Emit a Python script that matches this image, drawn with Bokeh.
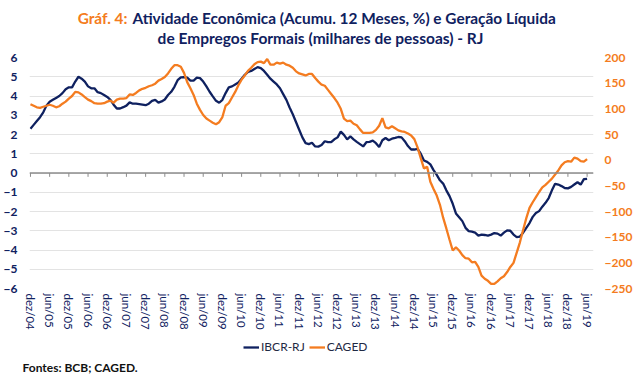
from bokeh.plotting import figure
from bokeh.layouts import column
from bokeh.models import (Range1d, LinearAxis, FixedTicker, Span, Label, Legend,
                          LegendItem, ColumnDataSource)
from bokeh.embed import file_html
from bokeh.resources import INLINE

# ---------------- data (monthly, dez/04 .. jun/19) ----------------
IBCR_RJ = [
    2.3, 2.5, 2.7, 2.9, 3.15, 3.5, 3.7, 3.8, 3.9, 4.0,
    4.15, 4.35, 4.45, 4.45, 4.75, 5.0, 4.9, 4.75, 4.5, 4.4,
    4.4, 4.2, 4.15, 4.05, 3.95, 3.8, 3.55, 3.35, 3.35, 3.42,
    3.5, 3.67, 3.6, 3.6, 3.58, 3.55, 3.52, 3.6, 3.75, 3.8,
    3.66, 3.72, 3.82, 4.05, 4.22, 4.48, 4.82, 4.97, 4.98, 4.95,
    4.8, 4.8, 4.95, 4.93, 4.75, 4.5, 4.22, 3.98, 3.75, 3.65,
    3.8, 4.15, 4.45, 4.5, 4.6, 4.7, 4.9, 5.1, 5.25, 5.3,
    5.4, 5.5, 5.45, 5.3, 5.1, 4.9, 4.75, 4.6, 4.4, 4.1,
    3.8, 3.4, 3.05, 2.65, 2.25, 1.85, 1.55, 1.5, 1.57, 1.38,
    1.37, 1.45, 1.65, 1.6, 1.6, 1.75, 1.85, 2.15, 1.98, 1.75,
    1.9, 1.75, 1.62, 1.5, 1.38, 1.6, 1.62, 1.68, 1.55, 1.35,
    1.7, 1.82, 1.7, 1.78, 1.82, 1.87, 1.85, 1.65, 1.4, 1.22,
    1.22, 1.25, 1.0, 0.65, 0.58, 0.45, 0.15, -0.1, -0.38, -0.55,
    -0.9, -1.2, -1.6, -2.1, -2.3, -2.5, -2.85, -3.02, -3.05, -3.1,
    -3.25, -3.2, -3.22, -3.25, -3.2, -3.12, -3.15, -3.25, -3.1, -2.98,
    -3.0, -3.2, -3.33, -3.3, -3.1, -2.85, -2.6, -2.28, -2.08, -1.98,
    -1.75, -1.55, -1.3, -0.9, -0.56, -0.6, -0.68, -0.78, -0.8, -0.72,
    -0.6, -0.48, -0.6, -0.32, -0.3,
]

CAGED = [
    109, 106, 103, 102, 104, 106, 108, 106, 103, 105,
    110, 114, 120, 125, 133, 132, 128, 123, 118, 115,
    111, 110, 110, 111, 114, 116, 112, 118, 120, 120,
    121, 128, 127, 131, 136, 139, 141, 144, 146, 149,
    155, 158, 162, 169, 178, 185, 185, 182, 170, 152,
    140, 127, 110, 98, 88, 81, 77, 73, 70, 74,
    84, 106, 111, 122, 133, 146, 157, 165, 174, 180,
    187, 191, 192, 189, 197, 186, 186, 190, 188, 190,
    186, 184, 180, 173, 169, 167, 165, 168, 168, 160,
    153, 147, 145, 137, 129, 121, 112, 100, 81, 76,
    77, 71, 68, 60, 53, 53, 53, 54, 59, 67,
    82, 64, 62, 66, 62, 58, 56, 55, 52, 48,
    41, 25, 4, -16, -13, -42, -56, -69, -87, -112,
    -133, -155, -176, -170, -176, -185, -191, -192, -199, -198,
    -208, -225, -231, -235, -241, -241, -236, -230, -226, -218,
    -208, -200, -180, -160, -136, -113, -93, -82, -72, -62,
    -53, -48, -42, -36, -28, -20, -10, -4, -2, -3,
    5, 3, -2, -3, 2,
]

TICK_LABELS = [
    "dez/04", "jun/05", "dez/05", "jun/06", "dez/06", "jun/07", "dez/07",
    "jun/08", "dez/08", "jun/09", "dez/09", "jun/10", "dez/10", "jun/11",
    "dez/11", "jun/12", "dez/12", "jun/13", "dez/13", "jun/14", "dez/14",
    "jun/15", "dez/15", "jun/16", "dez/16", "jun/17", "dez/17", "jun/18",
    "dez/18", "jun/19",
]
LEFT_TICKS = [-6, -5, -4, -3, -2, -1, 0, 1, 2, 3, 4, 5, 6]
RIGHT_TICKS = [-250, -200, -150, -100, -50, 0, 50, 100, 150, 200]
SERIES_NAMES = ["IBCR-RJ", "CAGED"]

TITLE_TAG = "Gráf. 4:"
TITLE_L1 = "Atividade Econômica (Acumu. 12 Meses, %) e Geração Líquida"
TITLE_L2 = "de Empregos Formais (milhares de pessoas) - RJ"
SOURCE = "Fontes: BCB; CAGED."

NAVY = "#0F2160"
ORANGE = "#F47C20"
FONT = "Lato"
W = 642


def strip(height, y_range):
    f = figure(width=W, height=height, output_backend="svg", toolbar_location=None,
               x_axis_location=None, y_axis_location=None,
               x_range=Range1d(0, W), y_range=y_range, frame_align=False,
               min_border=0, min_border_left=0, min_border_right=0,
               min_border_top=0, min_border_bottom=0)
    f.grid.visible = False
    f.outline_line_color = None
    return f


months = list(range(len(IBCR_RJ)))
tick_pos = [i * 6 for i in range(len(TICK_LABELS))]
src = ColumnDataSource(dict(x=months, ibc=IBCR_RJ, cag=CAGED))

# ---------------- title strip ----------------
t = strip(50, Range1d(0, 50))
t.add_layout(Label(x=127, y=33, x_units="screen", y_units="screen", text=TITLE_TAG,
                   text_align="right", text_baseline="middle", text_font=FONT,
                   text_font_style="bold", text_font_size="15.4px", text_color=ORANGE))
t.add_layout(Label(x=132, y=33, x_units="screen", y_units="screen", text=TITLE_L1,
                   text_align="left", text_baseline="middle", text_font=FONT,
                   text_font_style="bold", text_font_size="15.4px", text_color=NAVY))
t.add_layout(Label(x=320, y=13, x_units="screen", y_units="screen", text=TITLE_L2,
                   text_align="center", text_baseline="middle", text_font=FONT,
                   text_font_style="bold", text_font_size="15.5px", text_color=NAVY))

# ---------------- main chart ----------------
p = figure(width=W, height=283, output_backend="svg", toolbar_location=None,
           x_range=Range1d(-0.3, 176), y_range=Range1d(-6, 6), frame_align=False,
           min_border_left=29, min_border_right=49, min_border_top=7,
           min_border_bottom=45)
p.outline_line_color = None
p.extra_y_ranges = {"right": Range1d(-250, 200)}

p.xgrid.visible = False
p.ygrid.ticker = FixedTicker(ticks=LEFT_TICKS)
p.ygrid.grid_line_color = "#E3E3E3"
p.ygrid.grid_line_width = 1

xa = p.xaxis[0]
xa.ticker = FixedTicker(ticks=tick_pos)
xa.major_label_overrides = {tp: lab for tp, lab in zip(tick_pos, TICK_LABELS)}
xa.major_label_orientation = "vertical"
xa.axis_line_color = None
xa.major_tick_line_color = None
xa.minor_tick_line_color = None
xa.major_tick_out = 0
xa.major_label_standoff = 5
xa.major_label_text_font = FONT
xa.major_label_text_font_size = "11.5px"
xa.major_label_text_color = NAVY

ya = p.yaxis[0]
ya.ticker = FixedTicker(ticks=LEFT_TICKS)
ya.axis_line_color = None
ya.major_tick_line_color = None
ya.minor_tick_line_color = None
ya.major_tick_out = 0
ya.major_label_standoff = 12
ya.major_label_text_font = FONT
ya.major_label_text_font_style = "bold"
ya.major_label_text_font_size = "12px"
ya.major_label_text_color = NAVY

ra = LinearAxis(y_range_name="right", ticker=FixedTicker(ticks=RIGHT_TICKS))
ra.axis_line_color = None
ra.major_tick_line_color = None
ra.minor_tick_line_color = None
ra.major_tick_out = 0
ra.major_label_standoff = 11
ra.major_label_text_font = FONT
ra.major_label_text_font_style = "bold"
ra.major_label_text_font_size = "12px"
ra.major_label_text_color = ORANGE
p.add_layout(ra, "right")

p.add_layout(Span(location=0, dimension="width", line_color="#8C8C8C", line_width=1.5))
p.segment(x0=tick_pos, y0=[0] * len(tick_pos), x1=tick_pos, y1=[-0.2] * len(tick_pos),
          line_color="#8C8C8C", line_width=1)

p.line("x", "ibc", source=src, line_color=NAVY, line_width=2.3)
p.line("x", "cag", source=src, line_color=ORANGE, line_width=2.3, y_range_name="right")

# ---------------- legend + source strip ----------------
# series lines re-used as legend keys; the strip's y-range keeps them out of view
b = strip(45, Range1d(1000, 1045))
k1 = b.line("x", "ibc", source=src, line_color=NAVY, line_width=2.3)
k2 = b.line("x", "cag", source=src, line_color=ORANGE, line_width=2.3)
legend = Legend(items=[LegendItem(label=SERIES_NAMES[0], renderers=[k1]),
                       LegendItem(label=SERIES_NAMES[1], renderers=[k2])],
                orientation="horizontal", location=(243, 24),
                glyph_width=16, glyph_height=12, label_standoff=2, spacing=4,
                padding=0, margin=0, border_line_color=None, background_fill_alpha=0,
                label_text_font=FONT, label_text_font_size="12px",
                label_text_color="#1F2A44", label_height=12)
b.add_layout(legend)
b.add_layout(Label(x=22, y=11, x_units="screen", y_units="screen", text=SOURCE,
                   text_align="left", text_baseline="middle", text_font=FONT,
                   text_font_style="bold", text_font_size="12px", text_color="#111111"))

layout = column(t, p, b, spacing=0)
open("out.html", "w").write(file_html(layout, INLINE))
